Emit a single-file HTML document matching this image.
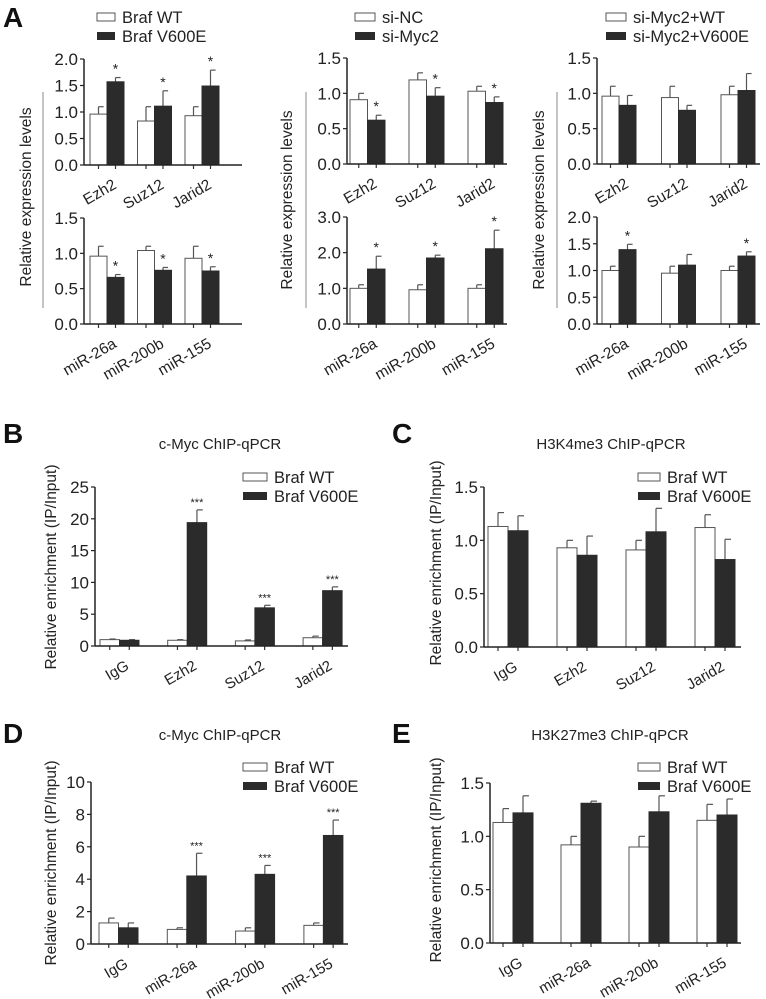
<!DOCTYPE html>
<html><head><meta charset="utf-8"><style>
html,body{margin:0;padding:0;background:#fff;}
svg{display:block;font-family:"Liberation Sans",Arial,sans-serif;}
</style></head><body>
<svg id="fig" width="766" height="999" viewBox="0 0 766 999" xmlns="http://www.w3.org/2000/svg"></svg>
<script>
// ---- data ----
const catsA1 = ["Ezh2","Suz12","Jarid2"];
const catsA2 = ["miR-26a","miR-200b","miR-155"];
const catsBC = ["IgG","Ezh2","Suz12","Jarid2"];
const catsDE = ["IgG","miR-26a","miR-200b","miR-155"];

const a1tWT=[0.96,0.83,0.93], a1tWTe=[0.14,0.27,0.17], a1tMu=[1.57,1.11,1.49], a1tMue=[0.08,0.29,0.30], a1tSig=["*","*","*"];
const a1bWT=[0.96,1.04,0.93], a1bWTe=[0.14,0.06,0.17], a1bMu=[0.66,0.76,0.75], a1bMue=[0.04,0.04,0.06], a1bSig=["*","*","*"];
const a2tWT=[0.91,1.19,1.03], a2tWTe=[0.09,0.10,0.07], a2tMu=[0.62,0.96,0.87], a2tMue=[0.07,0.12,0.08], a2tSig=["*","*","*"];
const a2bWT=[1.0,0.96,1.0], a2bWTe=[0.10,0.14,0.10], a2bMu=[1.54,1.85,2.11], a2bMue=[0.36,0.08,0.52], a2bSig=["*","*","*"];
const a3tWT=[0.96,0.94,0.98], a3tWTe=[0.14,0.16,0.12], a3tMu=[0.83,0.76,1.04], a3tMue=[0.14,0.07,0.24], a3tSig=["","",""];
const a3bWT=[1.0,0.95,1.0], a3bWTe=[0.08,0.13,0.08], a3bMu=[1.39,1.10,1.27], a3bMue=[0.10,0.20,0.08], a3bSig=["*","","*"];
const bWT=[1.0,0.9,0.8,1.3], bWTe=[0.1,0.1,0.15,0.25], bMu=[0.9,19.4,6.0,8.7], bMue=[0.1,2.0,0.4,0.6], bSig=["","***","***","***"];
const cWT=[1.13,0.93,0.91,1.12], cWTe=[0.13,0.07,0.09,0.12], cMu=[1.09,0.86,1.08,0.82], cMue=[0.14,0.18,0.22,0.19], cSig=["","","",""];
const dWT=[1.3,0.9,0.8,1.15], dWTe=[0.3,0.1,0.2,0.15], dMu=[1.0,4.2,4.3,6.7], dMue=[0.3,1.4,0.55,0.95], dSig=["","***","***","***"];
const eWT=[1.13,0.92,0.90,1.15], eWTe=[0.13,0.08,0.10,0.15], eMu=[1.22,1.31,1.23,1.20], eMue=[0.16,0.02,0.15,0.15], eSig=["","","",""];
const ticksA1t=[0,0.5,1.0,1.5,2.0], ticksA15=[0,0.5,1.0,1.5], ticksA3=[0,1.0,2.0,3.0], ticksA20=[0,0.5,1.0,1.5,2.0];
const ticksB=[0,5,10,15,20,25], ticksC=[0,0.5,1.0,1.5], ticksD=[0,2,4,6,8,10];

const NS="http://www.w3.org/2000/svg";
const svg=document.getElementById('fig');
function mk(tag,attrs,parent){const e=document.createElementNS(NS,tag);for(const k in attrs)e.setAttribute(k,attrs[k]);(parent||svg).appendChild(e);return e;}
function txt(s,attrs,parent){const t=mk('text',attrs,parent);t.textContent=s;return t;}

function chart(name,g,cats,wt,wte,mu,mue,sig,ticks,dec){
  const grp=mk('g',{});
  
  
  const max=ticks[ticks.length-1];
  const y=v=>g.y0-(v/max)*(g.y0-g.yTop);
  const xb=(i,s)=>g.x0+i*g.gs+s*g.bw;
  cats.forEach((c,i)=>{
    [[wt,wte,0,'#fff'],[mu,mue,1,'#2b2b2b']].forEach(([vals,errs,s,fill])=>{
      const x=xb(i,s), v=vals[i], top=y(v), et=y(v+errs[i]), cx=x+g.bw/2;
      const el=mk('line',{x1:cx,x2:cx,y1:top,y2:et,stroke:'#555','stroke-width':1.2},grp);
      
      
      mk('line',{x1:cx,x2:cx+g.bw*0.3,y1:et,y2:et,stroke:'#555','stroke-width':1.2},grp);
      const r=mk('rect',{x:x,y:top,width:g.bw,height:g.y0-top,fill:fill,stroke:s?'#2b2b2b':'#555','stroke-width':1},grp);
      
      
      mk('line',{x1:cx,x2:cx,y1:g.y0,y2:g.y0+4,stroke:'#333','stroke-width':1.2},grp);
      if(s&&sig[i]){
        const t=txt(sig[i],{x:cx,y:et-4,'text-anchor':'middle','font-size':sig[i].length>1?11:14,fill:'#222'},grp);
        
        
      }
    });
    const lx=g.x0+i*g.gs+g.bw, ly=g.y0+(g.lo||13);
    const t=txt(c,{x:lx+5,y:ly+11,'text-anchor':'end','font-size':g.fs||15.5,fill:'#222',transform:`rotate(-30 ${lx+5} ${ly})`},grp);
    
    
  });
  const ya=mk('line',{x1:g.ax,x2:g.ax,y1:g.yTop,y2:g.y0,stroke:'#222','stroke-width':1.5},grp);
  
  
  const xa=mk('line',{x1:g.ax,x2:g.end,y1:g.y0,y2:g.y0,stroke:'#222','stroke-width':1.5},grp);
  
  
  ticks.forEach(v=>{
    mk('line',{x1:g.ax-4,x2:g.ax,y1:y(v),y2:y(v),stroke:'#222','stroke-width':1.2},grp);
    const t=txt(v.toFixed(dec),{x:g.ax-6,y:y(v)+6,'text-anchor':'end','font-size':17,fill:'#222'},grp);
    
    
  });
}
function legend(name,x,y,l1,l2,bw){
  const g=mk('g',{});
  
  
  mk('rect',{x:x,y:y,width:bw,height:8,fill:'#fff',stroke:'#555'},g);
  mk('rect',{x:x,y:y+19,width:bw,height:8,fill:'#2b2b2b'},g);
  txt(l1,{x:x+bw+7,y:y+10,'font-size':16.5,fill:'#222'},g);
  txt(l2,{x:x+bw+7,y:y+29,'font-size':16.5,fill:'#222'},g);
}
function ytitle(s,x,cy,name){
  const t=txt(s,{x:x,y:cy,'text-anchor':'middle','font-size':15.5,fill:'#222',transform:`rotate(-90 ${x} ${cy})`});
  
  
}
function title(s,x,y,name){const t=txt(s,{x:x,y:y,'text-anchor':'middle','font-size':15,fill:'#222'});
  
  }
function letter(s,x,y){const t=txt(s,{x:x,y:y,'font-size':28,'font-weight':'bold',fill:'#111'});
  
  }

// Panel A
letter('A',3,27);
legend('legend-a1',97,13,'Braf WT','Braf V600E',18);
legend('legend-a2',355,13,'si-NC','si-Myc2',20);
legend('legend-a3',606,13,'si-Myc2+WT','si-Myc2+V600E',20);
chart('chart-a1-top',{ax:84,x0:90,bw:17,gs:47.5,end:242,yTop:59,y0:165},catsA1,a1tWT,a1tWTe,a1tMu,a1tMue,a1tSig,ticksA1t,1);
chart('chart-a1-bottom',{ax:84,x0:90,bw:17,gs:47.5,end:242,yTop:218,y0:324},catsA2,a1bWT,a1bWTe,a1bMu,a1bMue,a1bSig,ticksA15,1);
chart('chart-a2-top',{ax:347,x0:350,bw:17.5,gs:59,end:507,yTop:58,y0:164},catsA1,a2tWT,a2tWTe,a2tMu,a2tMue,a2tSig,ticksA15,1);
chart('chart-a2-bottom',{ax:347,x0:350,bw:17.5,gs:59,end:507,yTop:217,y0:324},catsA2,a2bWT,a2bWTe,a2bMu,a2bMue,a2bSig,ticksA3,1);
chart('chart-a3-top',{ax:597,x0:602,bw:17,gs:59.5,end:760,yTop:58,y0:164},catsA1,a3tWT,a3tWTe,a3tMu,a3tMue,a3tSig,ticksA15,1);
chart('chart-a3-bottom',{ax:597,x0:602,bw:17,gs:59.5,end:760,yTop:217,y0:324},catsA2,a3bWT,a3bWTe,a3bMu,a3bMue,a3bSig,ticksA20,1);
[43,306,557].forEach((x,i)=>{const l=mk('line',{x1:x,x2:x,y1:92,y2:308,stroke:'#888','stroke-width':1});
  
  });
ytitle('Relative expression levels',31,197,'y-axis-title-a1');
ytitle('Relative expression levels',292,200,'y-axis-title-a2');
ytitle('Relative expression levels',544,200,'y-axis-title-a3');

// Panel B
letter('B',3,443);
title('c-Myc ChIP-qPCR',220,449,'title-b');
legend('legend-b',243,473,'Braf WT','Braf V600E',24);
chart('chart-b',{ax:95,x0:100,bw:19.5,gs:67.7,end:348,yTop:487,y0:646,fs:15},catsBC,bWT,bWTe,bMu,bMue,bSig,ticksB,0);
ytitle('Relative enrichment (IP/Input)',56,567,'y-axis-title-b');

// Panel C
letter('C',392,443);
title('H3K4me3 ChIP-qPCR',611,449,'title-c');
legend('legend-c',638,473,'Braf WT','Braf V600E',22);
chart('chart-c',{ax:484,x0:488,bw:20,gs:69,end:741,yTop:487,y0:647,fs:15},catsBC,cWT,cWTe,cMu,cMue,cSig,ticksC,1);
ytitle('Relative enrichment (IP/Input)',441,563,'y-axis-title-c');

// Panel D
letter('D',3,743);
title('c-Myc ChIP-qPCR',220,740,'title-d');
legend('legend-d',243,763,'Braf WT','Braf V600E',24);
chart('chart-d',{ax:91,x0:99,bw:19.5,gs:68.3,end:348,yTop:782,y0:944,fs:15},catsDE,dWT,dWTe,dMu,dMue,dSig,ticksD,0);
ytitle('Relative enrichment (IP/Input)',56,863,'y-axis-title-d');

// Panel E
letter('E',392,743);
title('H3K27me3 ChIP-qPCR',610,740,'title-e');
legend('legend-e',638,763,'Braf WT','Braf V600E',22);
chart('chart-e',{ax:490,x0:493,bw:20,gs:68,end:741,yTop:783,y0:943,fs:15},catsDE,eWT,eWTe,eMu,eMue,eSig,ticksC,1);
ytitle('Relative enrichment (IP/Input)',441,860,'y-axis-title-e');
</script>
</body></html>
